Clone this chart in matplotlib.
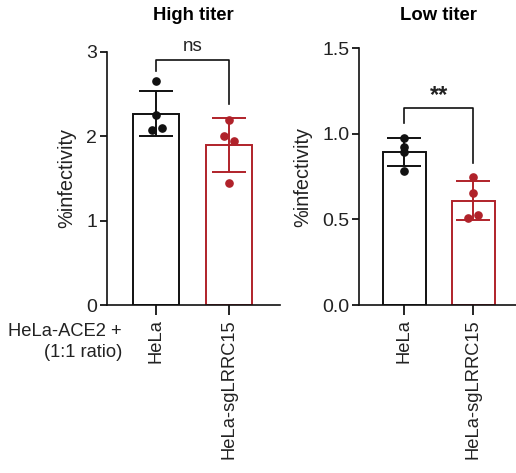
import numpy as np
import matplotlib
matplotlib.use("Agg")
import matplotlib.pyplot as plt

plt.rcParams['font.family'] = ['Liberation Sans', 'DejaVu Sans']

categories = ["HeLa", "HeLa-sgLRRC15"]
titles = ["High titer", "Low titer"]
high_hela = [2.66, 2.25, 2.07, 2.10]
high_sg = [2.19, 2.00, 1.95, 1.45]
low_hela = [0.978, 0.925, 0.896, 0.783]
low_sg = [0.75, 0.656, 0.526, 0.507]
high_ticks = [0, 1, 2, 3]
high_ticklabels = ["0", "1", "2", "3"]
low_ticks = [0.0, 0.5, 1.0, 1.5]
low_ticklabels = ["0.0", "0.5", "1.0", "1.5"]
sig_labels = ["ns", "**"]

# jitter offsets for points (style)
jit_high = [[0, 0, -0.055, 0.08], [0, -0.07, 0.07, 0]]
jit_low = [[0, 0, 0, 0], [0, 0, 0.063, -0.072]]

BLACK = "#111111"
RED = "#B0222A"
TXT = "#222222"

fig = plt.figure(figsize=(5.16, 4.73), dpi=100)
W, H = 516, 473
def rect(l, r, t, b):
    return [l / W, 1 - b / H, (r - l) / W, (b - t) / H]

ax1 = fig.add_axes(rect(107, 280, 52, 305))
ax2 = fig.add_axes(rect(359, 516, 48.3, 305))

def draw(ax, data, jit, ylim, ticks, ticklabels, xlim, bw, bracket, sig, sigy, sigsize, sigweight):
    colors = [BLACK, RED]
    for i, (vals, c) in enumerate(zip(data, colors)):
        v = np.array(vals)
        m = v.mean()
        sd = v.std(ddof=1)
        ax.bar(i, m, width=bw, facecolor="white", edgecolor=c, linewidth=1.4, zorder=2)
        ax.errorbar(i, m, yerr=sd, color=c, capsize=12, capthick=1.4, elinewidth=1.4, zorder=3)
        ax.plot(i + np.array(jit[i]), v, 'o', color=c, markersize=5.2, zorder=4, clip_on=False)
    ax.set_ylim(*ylim)
    ax.set_xlim(*xlim)
    ax.set_yticks(ticks)
    ax.set_yticklabels(ticklabels, fontsize=14, color=TXT)
    ax.set_xticks([0, 1])
    ax.set_xticklabels(categories, rotation=90, fontsize=13.2, color=TXT)
    ax.tick_params(axis='y', length=5, width=1.2, pad=2)
    ax.tick_params(axis='x', length=7, width=1.2, pad=3)
    for s in ["top", "right"]:
        ax.spines[s].set_visible(False)
    for s in ["left", "bottom"]:
        ax.spines[s].set_linewidth(1.2)
        ax.spines[s].set_color(BLACK)
        ax.spines[s].set_zorder(5)
    ax.set_ylabel("%infectivity", fontsize=14.3, color=TXT, labelpad=7)
    top, l_end, r_end = bracket
    ax.plot([0, 0, 1, 1], [l_end, top, top, r_end], color=BLACK, lw=1.2, clip_on=False)
    ax.text(0.5, sigy, sig, ha="center", va="center", fontsize=sigsize, fontweight=sigweight, color=TXT)

draw(ax1, [high_hela, high_sg], jit_high, (0, 3), high_ticks, high_ticklabels,
     (-0.671, 1.699), 0.64, (2.91, 2.78, 2.38), sig_labels[0], 3.06, 13.5, "normal")
draw(ax2, [low_hela, low_sg], jit_low, (0, 1.5), low_ticks, low_ticklabels,
     (-0.657, 1.619), 0.63, (1.153, 1.062, 0.828), sig_labels[1], 1.225, 17, "bold")

fig.text(193 / W, 1 - 16 / H, titles[0], ha="center", va="center", fontsize=13.3, fontweight="bold")
fig.text(438 / W, 1 - 16 / H, titles[1], ha="center", va="center", fontsize=13.3, fontweight="bold")

fig.text(122 / W, 1 - 342 / H, "HeLa-ACE2 +\n(1:1 ratio)", ha="right", va="center",
         multialignment="right", fontsize=13.2, color=TXT, linespacing=1.25)

fig.savefig("out.png", dpi=100)
